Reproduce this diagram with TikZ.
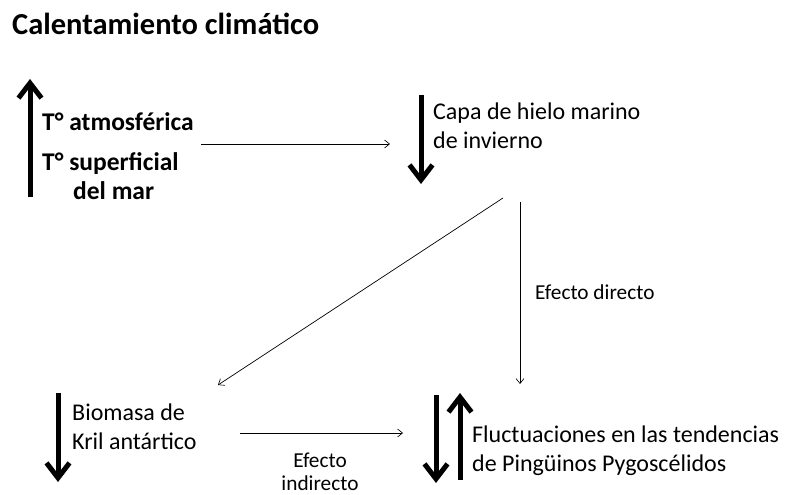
\documentclass[tikz,border=0pt]{standalone}
\usepackage{fontspec}
\setmainfont{Carlito}
\usetikzlibrary{arrows.meta}
\begin{document}
\begin{tikzpicture}[x=1pt,y=-1pt,
  bigarrow/.style={line width=5pt,-{Straight Barb[length=15pt,width=23pt,line width=5pt]}},
  thin/.style={line width=0.7pt,-{Straight Barb[length=5pt,width=8pt,line width=0.6pt]}},
  lbl/.style={font=\fontsize{24}{29}\selectfont,inner sep=0pt,anchor=base west},
  blbl/.style={font=\bfseries\fontsize{25.5}{30}\selectfont,inner sep=0pt,anchor=base west},
  small/.style={font=\fontsize{21.3}{24}\selectfont,inner sep=0pt,anchor=base}]
\useasboundingbox (0,0) rectangle (788,495);
\node[anchor=base west,font=\bfseries\fontsize{30.5}{36}\selectfont,inner sep=0pt] (title) at (12,35) {Calentamiento climático};
% top-left group
\coordinate (ua1) at (30,197);
\coordinate (ua2) at (30,79);
\draw[bigarrow] (ua1) -- (ua2);
\node[blbl] (tatm) at (42,130) {T° atmosférica};
\node[blbl] (tsup) at (42,171) {T° superficial};
\node[blbl] (dmar) at (73,199) {del mar};
% sea ice
\coordinate (ia1) at (421,95);
\coordinate (ia2) at (421,184);
\draw[bigarrow] (ia1) -- (ia2);
\node[lbl] (ice1) at (433,120) {Capa de hielo marino};
\node[lbl] (ice2) at (433,148) {de invierno};
% krill
\coordinate (ka1) at (58,393);
\coordinate (ka2) at (58,482);
\draw[bigarrow] (ka1) -- (ka2);
\node[lbl] (krill1) at (72,420) {Biomasa de};
\node[lbl] (krill2) at (72,449) {Kril antártico};
% penguins
\coordinate (pa1) at (436,395);
\coordinate (pa2) at (436,483);
\draw[bigarrow] (pa1) -- (pa2);
\coordinate (pb1) at (460,480);
\coordinate (pb2) at (460,393);
\draw[bigarrow] (pb1) -- (pb2);
\node[lbl] (peng1) at (472,442) {Fluctuaciones en las tendencias};
\node[lbl] (peng2) at (472,471) {de Pingüinos Pygoscélidos};
% connectors
\coordinate (c1s) at (201,144);
\coordinate (c1e) at (390,144);
\draw[thin] (c1s) -- (c1e);
\coordinate (c2s) at (503,198);
\coordinate (c2e) at (218,385);
\draw[thin] (c2s) -- (c2e);
\coordinate (c3s) at (520,202);
\coordinate (c3e) at (520,384);
\draw[thin] (c3s) -- (c3e);
\node[small,anchor=base west] (ed) at (535,299) {Efecto directo};
\coordinate (c4s) at (240,433);
\coordinate (c4e) at (403,433);
\draw[thin] (c4s) -- (c4e);
\node[small] (ei1) at (320,467) {Efecto};
\node[small] (ei2) at (320,490) {indirecto};
\end{tikzpicture}
\end{document}
